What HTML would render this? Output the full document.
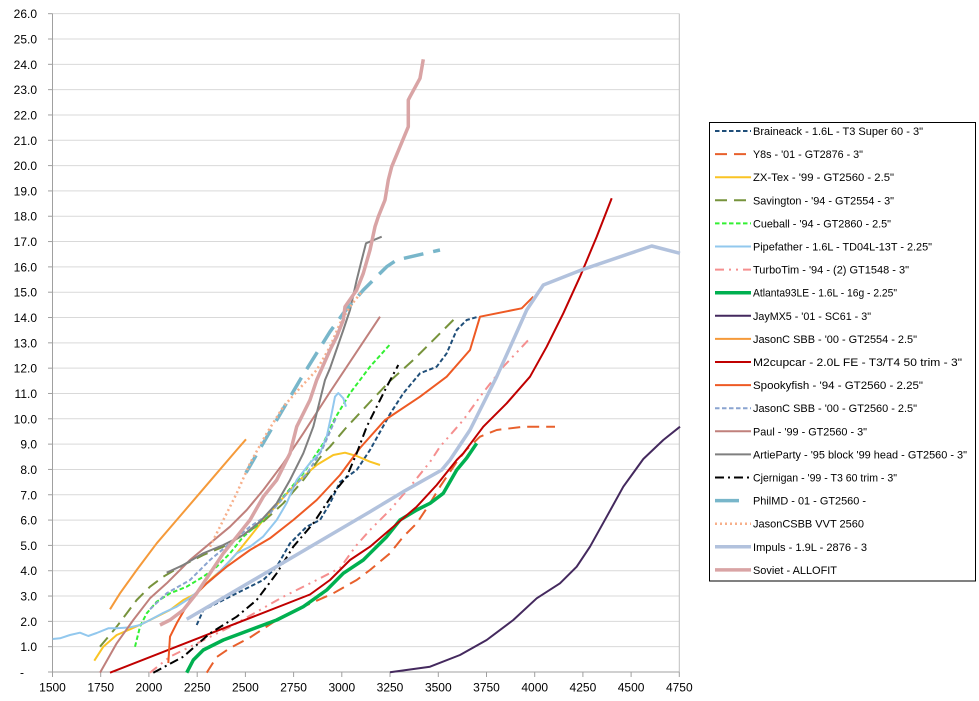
<!DOCTYPE html>
<html>
<head>
<meta charset="utf-8">
<style>
html,body{margin:0;padding:0;background:#fff;}
svg{display:block;}
text{font-family:"Liberation Sans",Arial,sans-serif;fill:#000;}
</style>
</head>
<body>
<svg width="979" height="701" viewBox="0 0 979 701" xmlns="http://www.w3.org/2000/svg">
<rect x="0" y="0" width="979" height="701" fill="#fff"/>
<!-- gridlines -->
<g stroke="#D9D9D9" stroke-width="1">
<line x1="52.5" x2="679.3" y1="646.68" y2="646.68"/>
<line x1="52.5" x2="679.3" y1="621.36" y2="621.36"/>
<line x1="52.5" x2="679.3" y1="596.04" y2="596.04"/>
<line x1="52.5" x2="679.3" y1="570.72" y2="570.72"/>
<line x1="52.5" x2="679.3" y1="545.4" y2="545.4"/>
<line x1="52.5" x2="679.3" y1="520.08" y2="520.08"/>
<line x1="52.5" x2="679.3" y1="494.76" y2="494.76"/>
<line x1="52.5" x2="679.3" y1="469.44" y2="469.44"/>
<line x1="52.5" x2="679.3" y1="444.12" y2="444.12"/>
<line x1="52.5" x2="679.3" y1="418.8" y2="418.8"/>
<line x1="52.5" x2="679.3" y1="393.48" y2="393.48"/>
<line x1="52.5" x2="679.3" y1="368.16" y2="368.16"/>
<line x1="52.5" x2="679.3" y1="342.84" y2="342.84"/>
<line x1="52.5" x2="679.3" y1="317.52" y2="317.52"/>
<line x1="52.5" x2="679.3" y1="292.2" y2="292.2"/>
<line x1="52.5" x2="679.3" y1="266.88" y2="266.88"/>
<line x1="52.5" x2="679.3" y1="241.56" y2="241.56"/>
<line x1="52.5" x2="679.3" y1="216.24" y2="216.24"/>
<line x1="52.5" x2="679.3" y1="190.92" y2="190.92"/>
<line x1="52.5" x2="679.3" y1="165.6" y2="165.6"/>
<line x1="52.5" x2="679.3" y1="140.28" y2="140.28"/>
<line x1="52.5" x2="679.3" y1="114.96" y2="114.96"/>
<line x1="52.5" x2="679.3" y1="89.64" y2="89.64"/>
<line x1="52.5" x2="679.3" y1="64.32" y2="64.32"/>
<line x1="52.5" x2="679.3" y1="39" y2="39"/>
<line x1="52.5" x2="679.3" y1="13.68" y2="13.68"/>
</g>
<!-- plot border / axes -->
<line x1="679.3" y1="13.68" x2="679.3" y2="672" stroke="#BFBFBF" stroke-width="1"/>
<line x1="52.5" y1="13.68" x2="52.5" y2="672" stroke="#A0A0A0" stroke-width="1"/>
<line x1="48" y1="672" x2="679.3" y2="672" stroke="#A0A0A0" stroke-width="1"/>
<!-- y ticks -->
<g stroke="#A0A0A0" stroke-width="1">
<line x1="48" x2="52.5" y1="646.68" y2="646.68"/><line x1="48" x2="52.5" y1="621.36" y2="621.36"/>
<line x1="48" x2="52.5" y1="596.04" y2="596.04"/><line x1="48" x2="52.5" y1="570.72" y2="570.72"/>
<line x1="48" x2="52.5" y1="545.4" y2="545.4"/><line x1="48" x2="52.5" y1="520.08" y2="520.08"/>
<line x1="48" x2="52.5" y1="494.76" y2="494.76"/><line x1="48" x2="52.5" y1="469.44" y2="469.44"/>
<line x1="48" x2="52.5" y1="444.12" y2="444.12"/><line x1="48" x2="52.5" y1="418.8" y2="418.8"/>
<line x1="48" x2="52.5" y1="393.48" y2="393.48"/><line x1="48" x2="52.5" y1="368.16" y2="368.16"/>
<line x1="48" x2="52.5" y1="342.84" y2="342.84"/><line x1="48" x2="52.5" y1="317.52" y2="317.52"/>
<line x1="48" x2="52.5" y1="292.2" y2="292.2"/><line x1="48" x2="52.5" y1="266.88" y2="266.88"/>
<line x1="48" x2="52.5" y1="241.56" y2="241.56"/><line x1="48" x2="52.5" y1="216.24" y2="216.24"/>
<line x1="48" x2="52.5" y1="190.92" y2="190.92"/><line x1="48" x2="52.5" y1="165.6" y2="165.6"/>
<line x1="48" x2="52.5" y1="140.28" y2="140.28"/><line x1="48" x2="52.5" y1="114.96" y2="114.96"/>
<line x1="48" x2="52.5" y1="89.64" y2="89.64"/><line x1="48" x2="52.5" y1="64.32" y2="64.32"/>
<line x1="48" x2="52.5" y1="39" y2="39"/><line x1="48" x2="52.5" y1="13.68" y2="13.68"/>
</g>
<!-- x ticks -->
<g stroke="#A0A0A0" stroke-width="1">
<line x1="52.5" x2="52.5" y1="672" y2="677"/><line x1="100.7" x2="100.7" y1="672" y2="677"/>
<line x1="148.9" x2="148.9" y1="672" y2="677"/><line x1="197.2" x2="197.2" y1="672" y2="677"/>
<line x1="245.4" x2="245.4" y1="672" y2="677"/><line x1="293.6" x2="293.6" y1="672" y2="677"/>
<line x1="341.8" x2="341.8" y1="672" y2="677"/><line x1="390" x2="390" y1="672" y2="677"/>
<line x1="438.3" x2="438.3" y1="672" y2="677"/><line x1="486.5" x2="486.5" y1="672" y2="677"/>
<line x1="534.7" x2="534.7" y1="672" y2="677"/><line x1="582.9" x2="582.9" y1="672" y2="677"/>
<line x1="631.1" x2="631.1" y1="672" y2="677"/><line x1="679.3" x2="679.3" y1="672" y2="677"/>
</g>
<!-- y labels -->
<text x="22" y="676.5" font-size="12" text-anchor="middle">-</text>
<g font-size="12" text-anchor="end">
<text x="37" y="651.2">1.0</text><text x="37" y="625.9">2.0</text><text x="37" y="600.5">3.0</text>
<text x="37" y="575.2">4.0</text><text x="37" y="549.9">5.0</text><text x="37" y="524.6">6.0</text>
<text x="37" y="499.3">7.0</text><text x="37" y="473.9">8.0</text><text x="37" y="448.6">9.0</text>
<text x="37" y="423.3">10.0</text><text x="37" y="398">11.0</text><text x="37" y="372.7">12.0</text>
<text x="37" y="347.3">13.0</text><text x="37" y="322">14.0</text><text x="37" y="296.7">15.0</text>
<text x="37" y="271.4">16.0</text><text x="37" y="246.1">17.0</text><text x="37" y="220.7">18.0</text>
<text x="37" y="195.4">19.0</text><text x="37" y="170.1">20.0</text><text x="37" y="144.8">21.0</text>
<text x="37" y="119.5">22.0</text><text x="37" y="94.1">23.0</text><text x="37" y="68.8">24.0</text>
<text x="37" y="43.5">25.0</text><text x="37" y="18.2">26.0</text>
</g>
<!-- x labels -->
<g font-size="12" text-anchor="middle">
<text x="52.5" y="691.5">1500</text><text x="100.7" y="691.5">1750</text>
<text x="148.9" y="691.5">2000</text><text x="197.2" y="691.5">2250</text>
<text x="245.4" y="691.5">2500</text><text x="293.6" y="691.5">2750</text>
<text x="341.8" y="691.5">3000</text><text x="390" y="691.5">3250</text>
<text x="438.3" y="691.5">3500</text><text x="486.5" y="691.5">3750</text>
<text x="534.7" y="691.5">4000</text><text x="582.9" y="691.5">4250</text>
<text x="631.1" y="691.5">4500</text><text x="679.3" y="691.5">4750</text>
</g>

<!-- series -->
<g fill="none" stroke-linejoin="round">
<polyline stroke="#1F4E79" stroke-width="2" stroke-dasharray="4.5 2.5" points="196.7,625 203.3,610 223.3,600 243.3,590 263.3,580 276.7,566.7 290,543.3 306.7,526.7 320,520 330,503.3 340,482 356.7,470 370,450 380,432 390,414 403.3,393.3 420,373.3 436.7,366.7 446.7,353.3 456.7,330 466.7,320 478.3,316.7"/>
<polyline stroke="#E8602C" stroke-width="2" stroke-dasharray="12 7" points="206.7,672.7 216.7,657 230,648 250,637.5 276.7,620 303.3,606.7 333.3,593.3 356.7,580 370,570 390,553.3 403.3,536.7 416.7,523.3 430,503.3 440,486.7 456.7,462 466,450 480,436.7 496.7,430 523.3,426.7 555,426.7"/>
<polyline stroke="#FAC424" stroke-width="2" points="94.3,660.7 103.3,646.7 116.7,635 130,629.3 143.3,623.3 156.7,616.7 170,610 183.3,600 196.7,593.3 210,580 223.3,568.3 236.7,553.3 250,536.7 263.3,520 276.7,505 290,490 303.3,476.7 316.7,465 333.3,455 345,452.7 356.7,456 370,461.7 380,465"/>
<polyline stroke="#77933C" stroke-width="2" stroke-dasharray="12 7" points="100,646.7 116.7,626.7 136.7,600 150,586.7 163.3,576.7 183.3,565 203.3,555 223.3,546.7 243.3,535 263.3,521.7 283.3,503.3 303.3,480 323.3,453.3 330,446.7 345,429 370,402 390,381 413.3,360 436.7,336.7 458.3,315"/>
<polyline stroke="#33F033" stroke-width="2" stroke-dasharray="4.5 2.5" points="135,646.7 140,626.7 146.7,613.3 156.7,601.7 170,593.3 186.7,586.7 203.3,576.7 216.7,566.7 230,553.3 243.3,536.7 263.3,520 283.3,496.7 303.3,473.3 323.3,443.3 334,420 350,393.3 370,366.7 391,343.3"/>
<polyline stroke="#92C8EE" stroke-width="2" points="52.7,639 60,638.3 70,635 80,632.7 88.3,636 96.7,633 108.3,628.3 116.7,628.3 130,627.3 140,625 150,620 163,613 176.7,606.7 190,598 203,586.7 213,578.3 223,568 236.7,553.3 250,546.7 263,536.7 276.7,520 286.7,503 296.7,480 310,463 320,453 326.7,436.7 331.7,413.3 335,396.7 338.3,393 343.3,398.3 346,406.7"/>
<polyline stroke="#F58F8F" stroke-width="2" stroke-dasharray="9 5 2 5 2 5" points="150,672.7 170,656.7 230,627 283.3,596.7 316.7,580 340,568 356.7,545 370,530 390,510 410,486.7 430,462 440,446.7 463.3,420 480,396.7 503.3,366.7 530,338.3"/>
<polyline stroke="#00B050" stroke-width="3.5" points="186.7,672.7 193.3,660 203.3,650 223.3,640 250,630 276.7,620 303.3,606.7 326.7,590 343.3,573.3 363.3,560 370,553.3 386.7,536.7 400,520 416.7,510 430,503.3 443.3,493.3 456.7,470 466.7,458 476.7,443.3"/>
<polyline stroke="#44295E" stroke-width="2" points="390,672.3 430,666.7 460,655 486.7,640 513.3,620 536.7,598.3 560,583.3 576.7,566.7 590,546.7 606.7,516.7 623.3,486.7 643.3,459 663.3,440 680,426.7"/>
<polyline stroke="#F59A3A" stroke-width="2" points="110,609.3 120,593.3 136.7,570 156.7,543.3 176.7,520 196.7,496.7 216.7,473.3 236.7,450 246,439.3"/>
<polyline stroke="#C00000" stroke-width="2" points="110,672.7 310,594.5 330,580 350,560 370,546.7 393.3,526.7 416.7,506.7 436.7,485 456.7,460 463.3,453.3 483.3,426.7 506.7,403.3 530,376.7 546.7,346.7 563.3,313.3 580,276.7 596.7,236.7 611.7,198.3"/>
<polyline stroke="#EE5A24" stroke-width="2" points="168.3,663 170,636.7 176.7,623.3 190,600 206.7,583.3 226.7,566.7 250,550 270,538.3 293.3,520 316.7,500 340,475 360,448 385,420 420,396.7 446.7,376.7 470,350 480,316.7 521.7,308.3 533.3,296.7"/>
<polyline stroke="#8AA4D0" stroke-width="2" stroke-dasharray="4.5 2.5" points="150,609.3 166.7,593.3 190,580 210,560 230,543.3 250,526.7 270,513.3 290,490 306.7,474 322,450 336,418"/>
<polyline stroke="#C0807C" stroke-width="2" points="100,672.7 116.7,643.3 133.3,620 150,598.3 166.7,583.3 190,560 210,543.3 230,526.7 246.7,510 263.3,490 283.3,463.3 303.3,433.3 330,392 380,316.7"/>
<polyline stroke="#7F7F7F" stroke-width="2" points="166.7,572.7 183.3,565 203.3,553.3 223.3,545 243.3,535 260,521.7 276.7,503.3 290,480 303.3,453.3 313.3,426.7 320,400 325,380 330,368.3 343.3,330 350,310 356.7,280 361.7,260 366,243.3 381.7,236.7"/>
<polyline stroke="#000000" stroke-width="2" stroke-dasharray="9 4 2 4" points="153.3,672.7 183.3,656.7 210,633.3 236.7,616.7 256.7,600 276.7,573.3 293.3,546.7 313.3,523.3 333.3,493.3 346.7,476.7 356.7,453.3 366.7,426.7 376.7,406.7 386.7,386.7 398.3,365"/>
<polyline stroke="#78B6CA" stroke-width="3.5" stroke-dasharray="20 10" points="246,472.7 300,380 330,331.7 343.3,313.3 363.3,290 386.7,266.7 396.7,260 440,250"/>
<polyline stroke="#F7AF8A" stroke-width="2.5" stroke-dasharray="2 3" points="210,546.7 236.7,493.3 250,463.3 266.7,433.3 283.3,406.7 300,388 316.7,370 330,346.7 340,323.3 350,306.7 361.7,291.7"/>
<polyline stroke="#B2C2DD" stroke-width="3.5" points="186.7,619.3 370,511.7 403.3,491.7 441.7,470 450,460 470,430 496.7,376.7 513.3,340 526.7,310 543.3,285 583.3,269.3 651.7,246 680,253.3"/>
<polyline stroke="#D9A4A5" stroke-width="3.5" points="160,625 170,620 183.3,610 196.7,593.3 210,573.3 223.3,553.3 236.7,536.7 250,520 263.3,496.7 276.7,480 290,453.3 296.7,426.7 310,400 316.7,380 330,350 336.7,336.7 343.3,320 345,306.7 356.7,290 363.3,273.3 370,250 375,226.7 378.3,216.7 385,200 388.3,180 391.7,166.7 400,146.7 408.3,126.7 408.3,100 410,96.7 420,78.3 423.3,59.3"/>
</g>

<!-- legend -->
<rect x="709.5" y="122.5" width="266" height="458.5" fill="#fff" stroke="#000" stroke-width="1"/>
<g fill="none">
<line x1="715" x2="751" y1="131" y2="131" stroke="#1F4E79" stroke-width="2" stroke-dasharray="4.5 2.5"/>
<line x1="715" x2="751" y1="154.1" y2="154.1" stroke="#E8602C" stroke-width="2" stroke-dasharray="12 7"/>
<line x1="715" x2="751" y1="177.2" y2="177.2" stroke="#FAC424" stroke-width="2"/>
<line x1="715" x2="751" y1="200.3" y2="200.3" stroke="#77933C" stroke-width="2" stroke-dasharray="12 7"/>
<line x1="715" x2="751" y1="223.4" y2="223.4" stroke="#33F033" stroke-width="2" stroke-dasharray="4.5 2.5"/>
<line x1="715" x2="751" y1="246.5" y2="246.5" stroke="#92C8EE" stroke-width="2"/>
<line x1="715" x2="751" y1="269.6" y2="269.6" stroke="#F58F8F" stroke-width="2" stroke-dasharray="9 5 2 5 2 5"/>
<line x1="715" x2="751" y1="292.7" y2="292.7" stroke="#00B050" stroke-width="3.5"/>
<line x1="715" x2="751" y1="315.8" y2="315.8" stroke="#44295E" stroke-width="2"/>
<line x1="715" x2="751" y1="338.9" y2="338.9" stroke="#F59A3A" stroke-width="2"/>
<line x1="715" x2="751" y1="362" y2="362" stroke="#C00000" stroke-width="2"/>
<line x1="715" x2="751" y1="385.1" y2="385.1" stroke="#EE5A24" stroke-width="2"/>
<line x1="715" x2="751" y1="408.2" y2="408.2" stroke="#8AA4D0" stroke-width="2" stroke-dasharray="4.5 2.5"/>
<line x1="715" x2="751" y1="431.3" y2="431.3" stroke="#C0807C" stroke-width="2"/>
<line x1="715" x2="751" y1="454.4" y2="454.4" stroke="#7F7F7F" stroke-width="2"/>
<line x1="715" x2="751" y1="477.5" y2="477.5" stroke="#000000" stroke-width="2" stroke-dasharray="9 4 2 4"/>
<line x1="715" x2="739" y1="500.6" y2="500.6" stroke="#78B6CA" stroke-width="3.5"/>
<line x1="715" x2="751" y1="523.7" y2="523.7" stroke="#F7AF8A" stroke-width="2.5" stroke-dasharray="2 3"/>
<line x1="715" x2="751" y1="546.8" y2="546.8" stroke="#B2C2DD" stroke-width="3.5"/>
<line x1="715" x2="751" y1="569.9" y2="569.9" stroke="#D9A4A5" stroke-width="3.5"/>
</g>
<g font-size="11">
<text x="753" y="135" textLength="170" lengthAdjust="spacingAndGlyphs">Braineack - 1.6L - T3 Super 60 - 3"</text>
<text x="753" y="158.1" textLength="110" lengthAdjust="spacingAndGlyphs">Y8s - '01 - GT2876 - 3"</text>
<text x="753" y="181.2" textLength="141" lengthAdjust="spacingAndGlyphs">ZX-Tex - '99 - GT2560 - 2.5"</text>
<text x="753" y="204.3" textLength="141" lengthAdjust="spacingAndGlyphs">Savington - '94 - GT2554 - 3"</text>
<text x="753" y="227.4" textLength="138" lengthAdjust="spacingAndGlyphs">Cueball - '94 - GT2860 - 2.5"</text>
<text x="753" y="250.5" textLength="179" lengthAdjust="spacingAndGlyphs">Pipefather - 1.6L - TD04L-13T - 2.25"</text>
<text x="753" y="273.6" textLength="156" lengthAdjust="spacingAndGlyphs">TurboTim - '94 - (2) GT1548 - 3"</text>
<text x="753" y="296.7" textLength="144" lengthAdjust="spacingAndGlyphs">Atlanta93LE - 1.6L - 16g - 2.25"</text>
<text x="753" y="319.8" textLength="118" lengthAdjust="spacingAndGlyphs">JayMX5 - '01 - SC61 - 3"</text>
<text x="753" y="342.9" textLength="164" lengthAdjust="spacingAndGlyphs">JasonC SBB - '00 - GT2554 - 2.5"</text>
<text x="753" y="366" textLength="209" lengthAdjust="spacingAndGlyphs">M2cupcar - 2.0L FE - T3/T4 50 trim - 3"</text>
<text x="753" y="389.1" textLength="170" lengthAdjust="spacingAndGlyphs">Spookyfish - '94 - GT2560 - 2.25"</text>
<text x="753" y="412.2" textLength="164" lengthAdjust="spacingAndGlyphs">JasonC SBB - '00 - GT2560 - 2.5"</text>
<text x="753" y="435.3" textLength="114" lengthAdjust="spacingAndGlyphs">Paul - '99 - GT2560 - 3"</text>
<text x="753" y="458.4" textLength="214" lengthAdjust="spacingAndGlyphs">ArtieParty - '95 block '99 head - GT2560 - 3"</text>
<text x="753" y="481.5" textLength="144" lengthAdjust="spacingAndGlyphs">Cjernigan - '99 - T3 60 trim - 3"</text>
<text x="753" y="504.6" textLength="113" lengthAdjust="spacingAndGlyphs">PhilMD - 01 - GT2560 -</text>
<text x="753" y="527.7" textLength="111" lengthAdjust="spacingAndGlyphs">JasonCSBB VVT 2560</text>
<text x="753" y="550.8" textLength="114" lengthAdjust="spacingAndGlyphs">Impuls - 1.9L - 2876 - 3</text>
<text x="753" y="573.9" textLength="84" lengthAdjust="spacingAndGlyphs">Soviet - ALLOFIT</text>
</g>
</svg>
</body>
</html>
